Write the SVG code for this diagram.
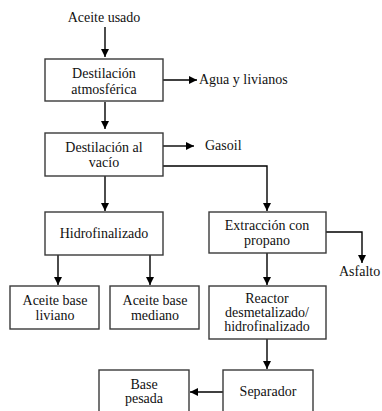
<svg xmlns="http://www.w3.org/2000/svg" width="382" height="411" viewBox="0 0 382 411">
<style>
.box{fill:#fff;stroke:#3a3a3a;stroke-width:1.4}
.t{font-family:"Liberation Serif","Times New Roman",serif;font-size:14px;fill:#111;text-anchor:middle}
.tl{font-family:"Liberation Serif","Times New Roman",serif;font-size:14px;fill:#111}
.c{fill:none;stroke:#000;stroke-width:1.4}
</style>
<defs>
<marker id="ah" markerUnits="userSpaceOnUse" markerWidth="9" markerHeight="9" refX="8" refY="4" orient="auto">
<path d="M0,0 L8,4 L0,8 z" fill="#000"/>
</marker>
</defs>
<rect width="382" height="411" fill="#fff"/>
<g id="connectors">
<line class="c" x1="105" y1="27" x2="105" y2="57" marker-end="url(#ah)"/>
<line class="c" x1="163" y1="80" x2="197" y2="80" marker-end="url(#ah)"/>
<line class="c" x1="105" y1="102" x2="105" y2="129" marker-end="url(#ah)"/>
<line class="c" x1="163" y1="146" x2="194" y2="146" marker-end="url(#ah)"/>
<polyline class="c" points="163,166 267,166 267,211" marker-end="url(#ah)"/>
<line class="c" x1="105" y1="176" x2="105" y2="211" marker-end="url(#ah)"/>
<line class="c" x1="58" y1="255" x2="58" y2="285" marker-end="url(#ah)"/>
<line class="c" x1="150" y1="255" x2="150" y2="285" marker-end="url(#ah)"/>
<polyline class="c" points="326,232 362,232 362,263" marker-end="url(#ah)"/>
<line class="c" x1="267" y1="253" x2="267" y2="285" marker-end="url(#ah)"/>
<line class="c" x1="267" y1="339" x2="267" y2="369" marker-end="url(#ah)"/>
<line class="c" x1="223" y1="392" x2="190" y2="392" marker-end="url(#ah)"/>
</g>
<g id="aceite-usado"><text class="t" x="104" y="22">Aceite usado</text></g>
<g id="destilacion-atm">
<rect class="box" x="45" y="59" width="118" height="42"/>
<text class="t" x="104" y="78">Destilación</text>
<text class="t" x="104" y="94">atmosférica</text>
</g>
<g id="agua"><text class="tl" x="199" y="84">Agua y livianos</text></g>
<g id="destilacion-vacio">
<rect class="box" x="45" y="133" width="118" height="43"/>
<text class="t" x="104" y="152">Destilación al</text>
<text class="t" x="104" y="167">vacío</text>
</g>
<g id="gasoil"><text class="tl" x="205" y="150">Gasoil</text></g>
<g id="hidrofinalizado">
<rect class="box" x="45" y="212" width="118" height="43"/>
<text class="t" x="104" y="238">Hidrofinalizado</text>
</g>
<g id="extraccion">
<rect class="box" x="209" y="212" width="117" height="41"/>
<text class="t" x="267" y="230">Extracción con</text>
<text class="t" x="267" y="245">propano</text>
</g>
<g id="asfalto"><text class="tl" x="339" y="276">Asfalto</text></g>
<g id="liviano">
<rect class="box" x="10" y="286" width="89" height="43"/>
<text class="t" x="55" y="305">Aceite base</text>
<text class="t" x="55" y="320">liviano</text>
</g>
<g id="mediano">
<rect class="box" x="110" y="286" width="89" height="43"/>
<text class="t" x="155" y="305">Aceite base</text>
<text class="t" x="155" y="320">mediano</text>
</g>
<g id="reactor">
<rect class="box" x="209" y="286" width="117" height="53"/>
<text class="t" x="267" y="303">Reactor</text>
<text class="t" x="267" y="317">desmetalizado/</text>
<text class="t" x="267" y="331">hidrofinalizado</text>
</g>
<g id="separador">
<rect class="box" x="223" y="370" width="90" height="50"/>
<text class="t" x="268" y="396">Separador</text>
</g>
<g id="base-pesada">
<rect class="box" x="99" y="370" width="90" height="50"/>
<text class="t" x="144" y="389">Base</text>
<text class="t" x="144" y="403">pesada</text>
</g>
</svg>
